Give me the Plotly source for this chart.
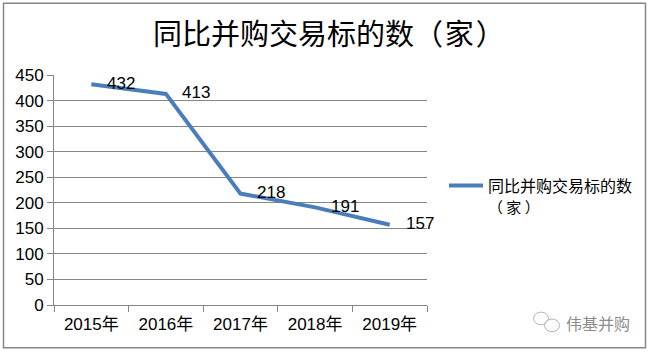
import plotly.graph_objects as go

categories = ["2015年", "2016年", "2017年", "2018年", "2019年"]
values = [432, 413, 218, 191, 157]
y_ticks = [0, 50, 100, 150, 200, 250, 300, 350, 400, 450]
title_text = "同比并购交易标的数（\u200a家\u200a）"
series_name = "同比并购交易标的数"
series_name_2 = "（ 家 ）"
watermark = "伟基并购"

GREY = "#868686"
FONT = "Liberation Sans, Noto Sans CJK SC, sans-serif"
CJK = "Noto Sans CJK SC, sans-serif"

def px(x): return (x-54)/373
def py(y): return (305.5-y)/231

fig = go.Figure()
fig.add_trace(go.Scatter(
    x=categories, y=values, mode="lines", name=series_name,
    line=dict(color="#4a7ebb", width=4, shape="linear"),
))

for c, v in zip(categories, values):
    fig.add_annotation(x=c, y=v, text=str(v), showarrow=False, xshift=30, yshift=1,
                       font=dict(family=FONT, size=17, color="#000000"))

fig.add_annotation(xref="paper", yref="paper", x=px(329), y=py(31),
                   text=title_text, showarrow=False, xanchor="center", yanchor="middle",
                   font=dict(family=CJK, size=29, color="#000000"))
fig.add_annotation(xref="paper", yref="paper", x=px(598), y=py(324),
                   text=watermark, showarrow=False, xanchor="center", yanchor="middle",
                   font=dict(family=CJK, size=16, color="#8c8c8c"))
fig.add_annotation(xref="paper", yref="paper", x=px(486), y=py(206.5),
                   text=series_name_2, showarrow=False, xanchor="left", yanchor="middle",
                   font=dict(family=CJK, size=15, color="#000000"))

shapes = [
    dict(type="rect", xref="paper", yref="paper", x0=px(3.5), x1=px(645.5), y0=py(348.5), y1=py(2.5),
         line=dict(color=GREY, width=1.5), layer="below"),
]
for (cx, cy, r) in [(541, 319, 7.5), (552, 326, 7.5)]:
    shapes.append(dict(type="circle", xref="paper", yref="paper",
                       x0=px(cx-r), x1=px(cx+r), y0=py(cy+r*0.85), y1=py(cy-r*0.85),
                       line=dict(color="#b5b5b5", width=1), fillcolor="rgba(255,255,255,0.6)"))

fig.update_layout(
    width=651, height=353, autosize=False,
    margin=dict(l=54, r=224, t=74.5, b=47.5),
    paper_bgcolor="#ffffff", plot_bgcolor="#ffffff",
    font=dict(family=FONT, color="#000000"),
    showlegend=True,
    legend=dict(x=px(444), y=py(168.5), xanchor="left", yanchor="top",
                font=dict(family=CJK, size=16, color="#000000"),
                bgcolor="rgba(0,0,0,0)", itemwidth=34),
    shapes=shapes,
    xaxis=dict(type="category", categoryorder="array", categoryarray=categories,
               range=[-0.5, 4.5], tickson="boundaries", ticks="outside", ticklen=6,
               tickcolor=GREY, tickwidth=1, showline=True, linecolor=GREY, linewidth=1,
               showgrid=False, ticklabelstandoff=4,
               tickfont=dict(family=FONT, size=17, color="#000000"), fixedrange=True),
    yaxis=dict(range=[0, 450], tickmode="array", tickvals=y_ticks, ticks="outside", ticklen=6,
               tickcolor=GREY, tickwidth=1, showline=True, linecolor=GREY, linewidth=1,
               showgrid=True, gridcolor=GREY, gridwidth=1, zeroline=False,
               tickfont=dict(family=FONT, size=17, color="#000000"), fixedrange=True),
)

fig.write_html("out.html", config={"displayModeBar": False},
               post_script="document.body.style.margin='0';")
